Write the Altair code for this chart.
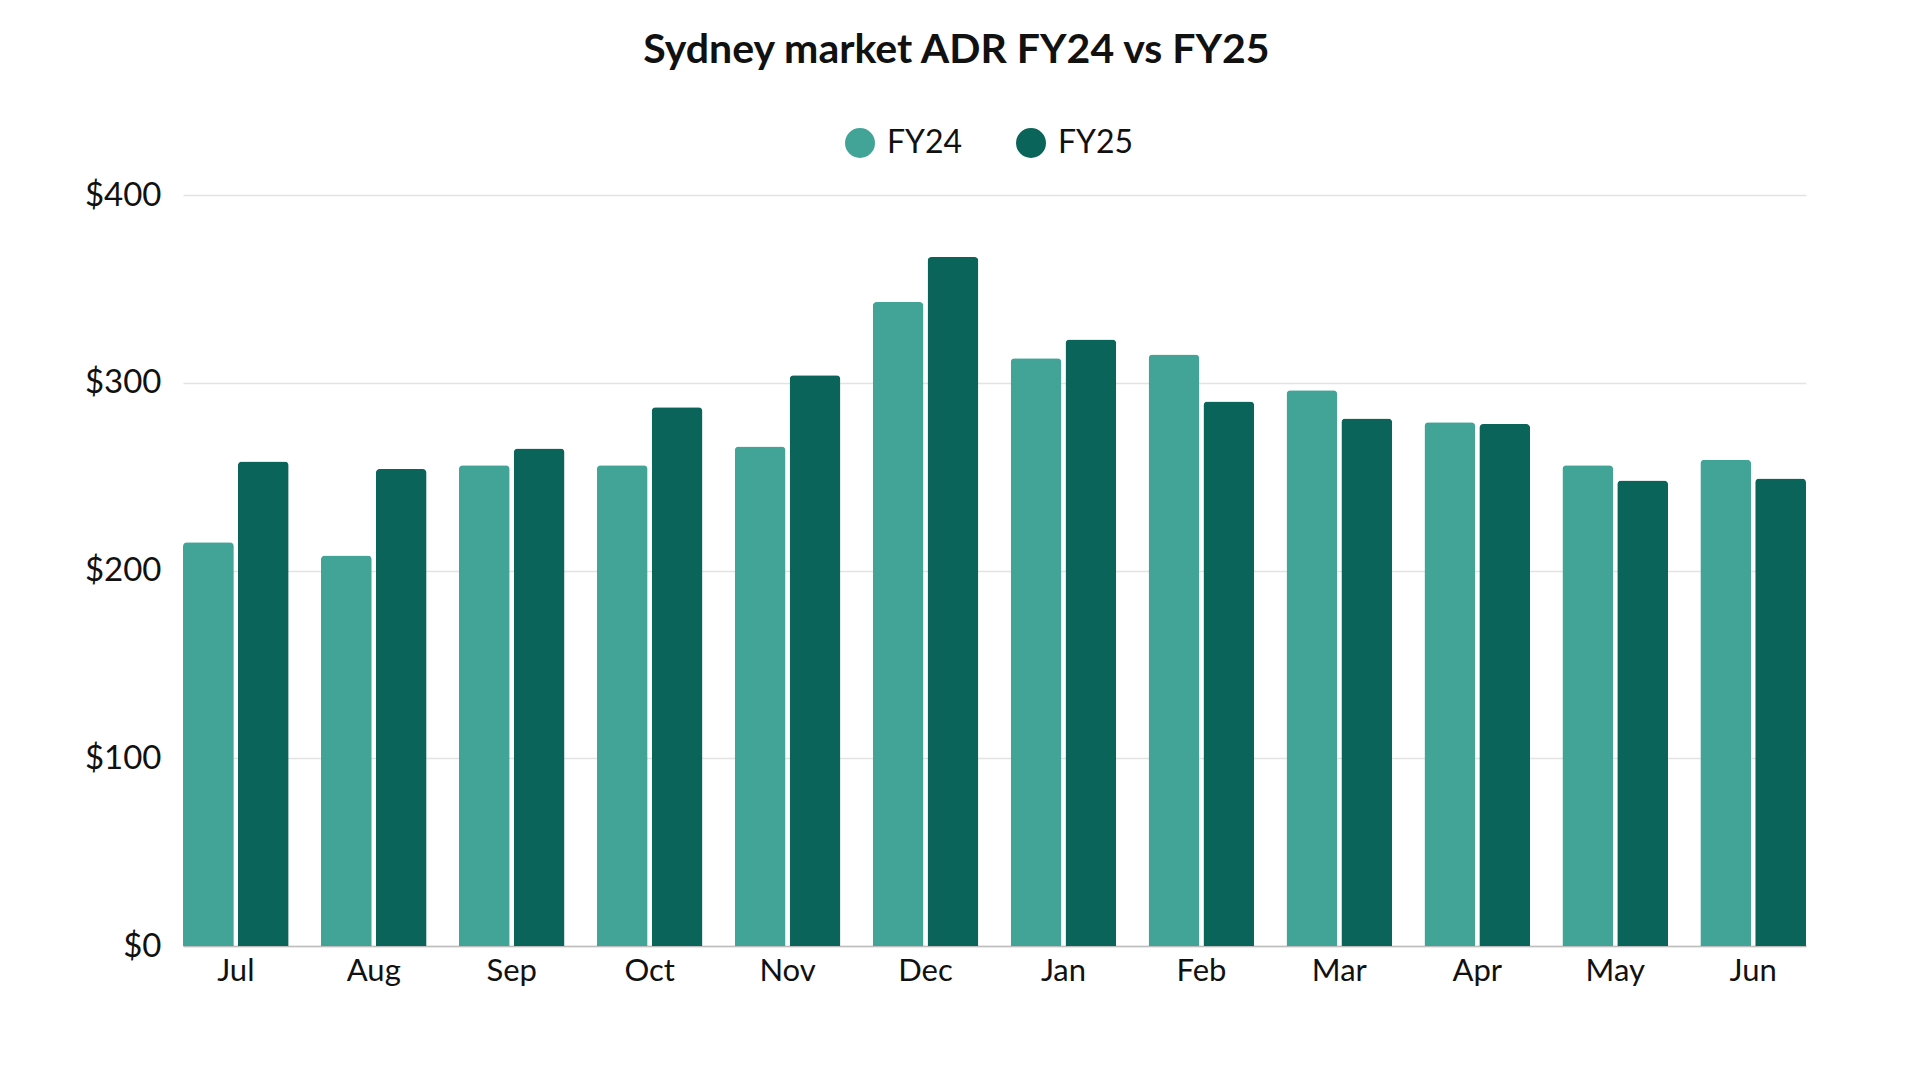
import pandas as pd
import altair as alt

months = ["Jul", "Aug", "Sep", "Oct", "Nov", "Dec", "Jan", "Feb", "Mar", "Apr", "May", "Jun"]
fy24 = [215, 208, 256, 256, 266, 343, 313, 315, 296, 279, 256, 259]
fy25 = [258, 254, 265, 287, 304, 367, 323, 290, 281, 278, 248, 249]
series = ["FY24", "FY25"]
colors = ["#41a497", "#0a6459"]

df = pd.concat(
    [
        pd.DataFrame({"Month": months, "Year": "FY24", "ADR": fy24}),
        pd.DataFrame({"Month": months, "Year": "FY25", "ADR": fy25}),
    ],
    ignore_index=True,
)

bars = (
    alt.Chart(df)
    .mark_bar(cornerRadiusTopLeft=4, cornerRadiusTopRight=4)
    .encode(
        x=alt.X(
            "Month:N",
            sort=months,
            title=None,
            scale=alt.Scale(paddingInner=0.234, paddingOuter=0),
            axis=alt.Axis(
                labelAngle=0,
                labelFontSize=31,
                labelPadding=10,
                ticks=False,
                domainColor="#bdbdbd",
                domainWidth=1.5,
                grid=False,
            ),
        ),
        xOffset=alt.XOffset("Year:N", sort=series, scale=alt.Scale(paddingInner=0.074)),
        y=alt.Y(
            "ADR:Q",
            title=None,
            scale=alt.Scale(domain=[0, 400]),
            axis=alt.Axis(
                values=[0, 100, 200, 300, 400],
                labelExpr="'$' + datum.value",
                labelFontSize=33,
                labelPadding=22,
                ticks=False,
                domain=False,
                gridColor="#e3e3e3",
                gridWidth=1.5,
            ),
        ),
        color=alt.Color(
            "Year:N",
            sort=series,
            scale=alt.Scale(domain=series, range=colors),
            legend=alt.Legend(
                title=None,
                orient="none",
                direction="horizontal",
                legendX=661,
                legendY=-68,
                symbolType="circle",
                symbolSize=900,
                symbolStrokeWidth=0,
                labelFontSize=32,
                labelOffset=11,
                columnPadding=52,
            ),
        ),
    )
    .properties(
        width=1623,
        height=751,
        padding={"left": 76, "top": 22, "right": 20, "bottom": 20},
        title=alt.TitleParams(
            "Sydney market ADR FY24 vs FY25",
            fontSize=41,
            fontWeight="bold",
            font="Lato",
            color="#111111",
            anchor="middle",
            dx=-38,
            offset=55,
        ),
    )
)

chart = (
    bars.configure_view(stroke=None)
    .configure_axis(labelFont="Lato", labelColor="#111111")
    .configure_legend(labelFont="Lato", labelColor="#111111")
)

chart.save("out.html", embed_options={"renderer": "svg", "actions": False})
